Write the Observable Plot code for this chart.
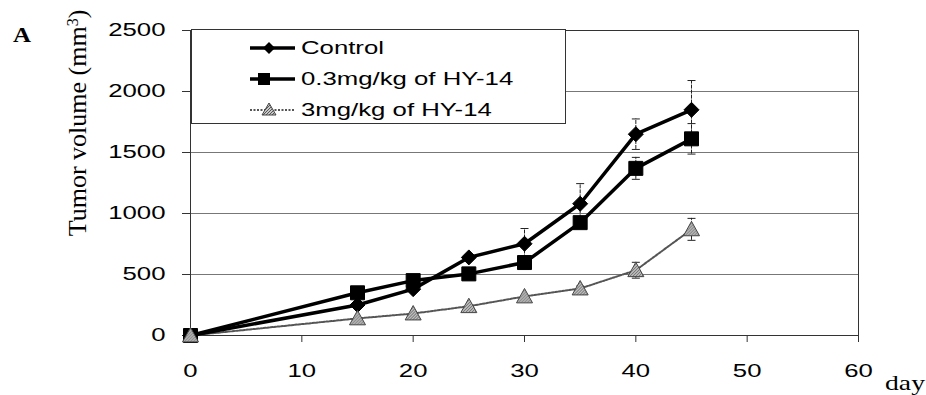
<!DOCTYPE html>
<html>
<head>
<meta charset="utf-8">
<script src="https://cdn.jsdelivr.net/npm/d3@7"></script>
<script src="https://cdn.jsdelivr.net/npm/@observablehq/plot@0.6"></script>
<style>
  html, body { margin: 0; padding: 0; background: #fff; }
  #wrap { position: relative; width: 926px; height: 395px; overflow: hidden; }
  #legend { position: absolute; left: 191px; top: 29px; width: 375px; height: 95px;
            border: 1px solid #333; background: #fff; box-sizing: border-box; }
  .row { position: absolute; left: 0; height: 30px; width: 100%; }
  .row svg { position: absolute; left: 55px; top: 0; }
  .row span { position: absolute; left: 109px; top: 3px; font-family: "Liberation Sans", Arial, sans-serif;
              font-size: 18px; line-height: 24px; transform: scaleX(1.43); transform-origin: left center; white-space: nowrap; color: #000; }
</style>
</head>
<body>
<div id="wrap"></div>
<script>
// ---- data ----
const days = [0, 15, 20, 25, 30, 35, 40, 45];
const seriesNames = ["Control", "0.3mg/kg of HY-14", "3mg/kg of HY-14"];
const controlValues = [0, 250, 380, 640, 752, 1080, 1650, 1850];
const lowDoseValues = [0, 350, 450, 505, 598, 925, 1370, 1612];
const highDoseValues = [0, 140, 180, 240, 320, 385, 535, 870];
const controlErr = [0, 0, 0, 0, 125, 165, 125, 240];
const lowDoseErr = [0, 0, 0, 0, 0, 0, 90, 125];
const highDoseErr = [0, 0, 0, 0, 0, 20, 65, 90];
const xTicks = [0, 10, 20, 30, 40, 50, 60];
const yTicks = [0, 500, 1000, 1500, 2000, 2500];

const valueSets = [controlValues, lowDoseValues, highDoseValues];
const errSets = [controlErr, lowDoseErr, highDoseErr];
const rows = [];
seriesNames.forEach((s, i) => days.forEach((d, j) => rows.push({series: s, day: d, value: valueSets[i][j], err: errSets[i][j]})));
const bySeries = s => rows.filter(r => r.series === s);
const errRows = rows.filter(r => r.err > 0);

// ---- custom symbols ----
const rad = size => Math.sqrt(size / Math.PI);
const diamondSym = {draw(ctx, size) { const r = rad(size); ctx.moveTo(0, -r); ctx.lineTo(r, 0); ctx.lineTo(0, r); ctx.lineTo(-r, 0); ctx.closePath(); }};
const squareSym = {draw(ctx, size) { const r = rad(size); ctx.rect(-r, -r, 2 * r, 2 * r); }};
const triSym = {draw(ctx, size) { const r = rad(size); ctx.moveTo(0, -r); ctx.lineTo(r, r * 0.8); ctx.lineTo(-r, r * 0.8); ctx.closePath(); }};
const capSym = {draw(ctx, size) { const r = rad(size); ctx.moveTo(-r, 0); ctx.lineTo(r, 0); }};

const chart = Plot.plot({
  width: 926,
  height: 395,
  marginLeft: 190,
  marginRight: 68,
  marginTop: 30,
  marginBottom: 60,
  style: {fontFamily: "'Liberation Sans', Arial, sans-serif", fontSize: "18px", color: "#000", background: "#fff", overflow: "visible"},
  x: {domain: [0, 60]},
  y: {domain: [0, 2500]},
  marks: [
    Plot.gridY(yTicks, {stroke: "#777", strokeOpacity: 1, strokeWidth: 1}),
    Plot.frame({stroke: "#333", strokeWidth: 1}),
    Plot.axisY(yTicks, {tickSize: 8, tickPadding: 17, label: null, stroke: "#333", tickFormat: d => String(d)}),
    Plot.axisX(xTicks, {tickSize: 7, tickPadding: 22, label: null, stroke: "#333", tickFormat: d => String(d)}),
    Plot.ruleX(errRows, {x: "day", y1: d => d.value - d.err, y2: d => d.value + d.err, stroke: "#222", strokeWidth: 1, strokeDasharray: "4,1"}),
    Plot.dot(errRows, {x: "day", y: d => d.value + d.err, symbol: capSym, r: 4, stroke: "#222", strokeWidth: 1}),
    Plot.dot(errRows, {x: "day", y: d => d.value - d.err, symbol: capSym, r: 4, stroke: "#222", strokeWidth: 1}),
    Plot.line(bySeries(seriesNames[2]), {x: "day", y: "value", stroke: "#555", strokeWidth: 2, strokeDasharray: "2,1.5"}),
    Plot.line(bySeries(seriesNames[1]), {x: "day", y: "value", stroke: "#000", strokeWidth: 3.5}),
    Plot.line(bySeries(seriesNames[0]), {x: "day", y: "value", stroke: "#000", strokeWidth: 3.5}),
    Plot.dot(bySeries(seriesNames[1]), {x: "day", y: "value", symbol: squareSym, r: 7, fill: "#000", stroke: "#000", strokeWidth: 1}),
    Plot.dot(bySeries(seriesNames[0]), {x: "day", y: "value", symbol: diamondSym, r: 7.5, fill: "#000", stroke: "#000", strokeWidth: 1}),
    Plot.dot(bySeries(seriesNames[2]), {x: "day", y: "value", symbol: triSym, r: 8, fill: "url(#hatch)", stroke: "#444", strokeWidth: 1})
  ]
});

const wrap = document.getElementById("wrap");
wrap.appendChild(chart);
const svg = d3.select(chart);

// hatch pattern for triangles
const defs = svg.insert("defs", ":first-child");
const pat = defs.append("pattern").attr("id", "hatch").attr("patternUnits", "userSpaceOnUse").attr("width", 3).attr("height", 3);
pat.append("rect").attr("width", 3).attr("height", 3).attr("fill", "#c8c8c8");
pat.append("path").attr("d", "M0,3 L3,0").attr("stroke", "#555").attr("stroke-width", 1);

// stretch tick labels horizontally like the reference
svg.selectAll("text").each(function() {
  const len = this.getComputedTextLength();
  this.setAttribute("textLength", (len * 1.43).toFixed(1));
  this.setAttribute("lengthAdjust", "spacingAndGlyphs");
});

// panel letter, axis titles
svg.append("text").attr("x", 13).attr("y", 42).attr("text-anchor", "start")
  .attr("font-family", "'Liberation Serif', 'Times New Roman', serif")
  .attr("font-weight", "bold").attr("font-size", 21).attr("textLength", 18).attr("lengthAdjust", "spacingAndGlyphs").text("A");

const yl = svg.append("text").attr("transform", "translate(86,123) rotate(-90)").attr("text-anchor", "middle")
  .attr("font-family", "'Liberation Serif', 'Times New Roman', serif").attr("font-size", 26);
yl.append("tspan").text("Tumor volume (mm");
yl.append("tspan").attr("baseline-shift", "super").attr("font-size", 16).text("3");
yl.append("tspan").text(")");

svg.append("text").attr("x", 885).attr("y", 390).attr("text-anchor", "start")
  .attr("font-family", "'Liberation Serif', 'Times New Roman', serif")
  .attr("font-size", 22).attr("textLength", 40).attr("lengthAdjust", "spacingAndGlyphs").text("day");

// legend
const legend = document.createElement("div");
legend.id = "legend";
const legendStyles = [
  {stroke: "#000", width: 3.5, dash: null, sym: "diamond"},
  {stroke: "#000", width: 3.5, dash: null, sym: "square"},
  {stroke: "#555", width: 2, dash: "2,1.5", sym: "triangle"}
];
seriesNames.forEach((name, i) => {
  const row = document.createElement("div");
  row.className = "row";
  row.style.top = (3 + i * 31) + "px";
  const st = legendStyles[i];
  const s = d3.create("svg").attr("width", 50).attr("height", 30);
  s.append("line").attr("x1", 3).attr("x2", 48).attr("y1", 15).attr("y2", 15)
    .attr("stroke", st.stroke).attr("stroke-width", st.width).attr("stroke-dasharray", st.dash);
  if (st.sym === "diamond") s.append("path").attr("d", "M22,9 L28,15 L22,21 L16,15 Z").attr("fill", "#000");
  if (st.sym === "square") s.append("rect").attr("x", 11).attr("y", 9).attr("width", 12).attr("height", 12).attr("fill", "#000");
  if (st.sym === "triangle") s.append("path").attr("d", "M22,8 L29,20 L15,20 Z").attr("fill", "url(#hatch)").attr("stroke", "#444");
  row.appendChild(s.node());
  const sp = document.createElement("span");
  sp.textContent = name;
  row.appendChild(sp);
  legend.appendChild(row);
});
wrap.appendChild(legend);
</script>
</body>
</html>
